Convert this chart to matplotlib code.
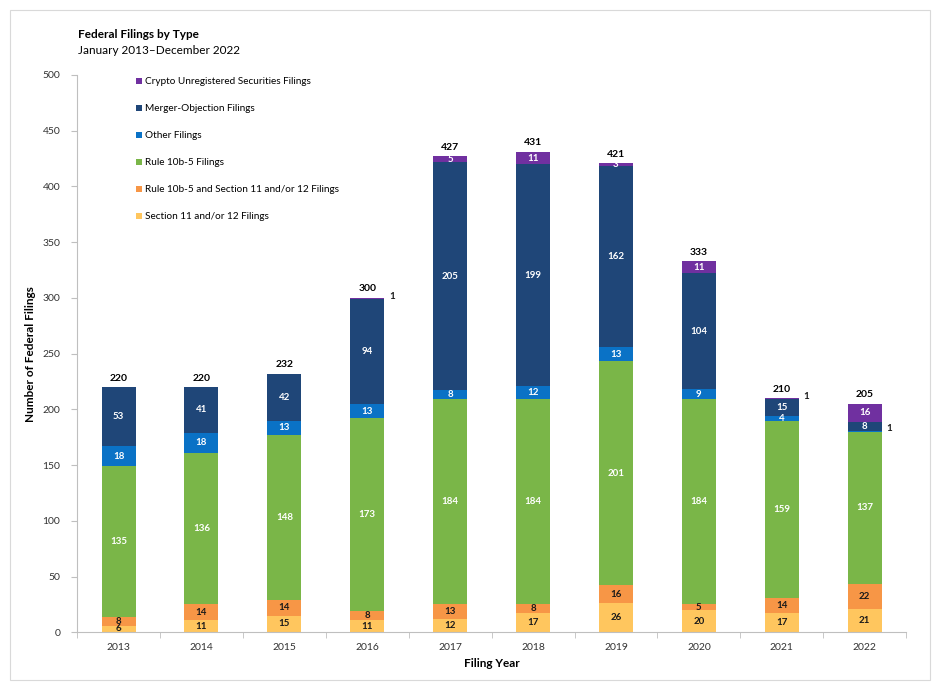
import matplotlib.pyplot as plt
from matplotlib.patches import Rectangle
import numpy as np

plt.rcParams['font.family'] = ['Lato', 'DejaVu Sans']

years = ['2013', '2014', '2015', '2016', '2017', '2018', '2019', '2020', '2021', '2022']
section11 = [6, 11, 15, 11, 12, 17, 26, 20, 17, 21]
rule10b5_s11 = [8, 14, 14, 8, 13, 8, 16, 5, 14, 22]
rule10b5 = [135, 136, 148, 173, 184, 184, 201, 184, 159, 137]
other = [18, 18, 13, 13, 8, 12, 13, 9, 4, 1]
merger = [53, 41, 42, 94, 205, 199, 162, 104, 15, 8]
crypto = [0, 0, 0, 1, 5, 11, 3, 11, 1, 16]

series = [
    ('Section 11 and/or 12 Filings', section11, '#FFC65E', '#1a1a1a'),
    ('Rule 10b-5 and Section 11 and/or 12 Filings', rule10b5_s11, '#F79646', '#1a1a1a'),
    ('Rule 10b-5 Filings', rule10b5, '#7AB648', 'white'),
    ('Other Filings', other, '#0A72C6', 'white'),
    ('Merger-Objection Filings', merger, '#1F4678', 'white'),
    ('Crypto Unregistered Securities Filings', crypto, '#7030A0', 'white'),
]

fig = plt.figure(figsize=(9.4, 6.88), dpi=100)
fig.patches.append(Rectangle((0.011, 0.012), 0.978, 0.974, transform=fig.transFigure,
                             fill=False, edgecolor='#d9d9d9', lw=0.8))
ax = fig.add_axes([0.082, 0.081, 0.882, 0.81])

x = np.arange(len(years))
w = 0.41
bottom = np.zeros(len(years))
handles = []
for name, vals, col, tcol in series:
    vals = np.array(vals)
    b = ax.bar(x, vals, w, bottom=bottom, color=col, label=name, edgecolor='none')
    handles.append(b)
    for i, v in enumerate(vals):
        if v == 0:
            continue
        if v <= 2:
            # tiny segments get their label to the right of the bar
            ax.text(x[i] + w / 2 + 0.06, bottom[i] + v / 2 + 2, str(v), ha='left', va='center',
                    fontsize=7, fontweight='bold', color='#1a1a1a')
        else:
            ax.text(x[i], bottom[i] + v / 2, str(v), ha='center', va='center',
                    fontsize=7, fontweight='bold', color=tcol)
    bottom += vals

for i, t in enumerate(bottom):
    ax.text(x[i], t + 4, str(int(t)), ha='center', va='bottom', fontsize=7.5,
            fontweight='bold', color='black')

ax.set_xlim(-0.5, len(years) - 0.5)
ax.set_ylim(0, 500)
ax.set_yticks(np.arange(0, 501, 50))
ax.set_xticks(x)
ax.set_xticklabels(years)
ax.set_xticks(np.arange(-0.5, len(years), 1), minor=True)
ax.tick_params(axis='x', which='major', length=0, labelsize=7.5, colors='#333333', pad=8)
ax.tick_params(axis='x', which='minor', length=4, color='#bfbfbf')
ax.tick_params(axis='y', length=4, color='#bfbfbf', labelsize=7.5, labelcolor='#333333', pad=8)
for s in ['top', 'right']:
    ax.spines[s].set_visible(False)
for s in ['left', 'bottom']:
    ax.spines[s].set_color('#bfbfbf')

ax.set_ylabel('Number of Federal Filings', fontsize=8.5, fontweight='bold')
ax.yaxis.set_label_coords(-0.05, 0.5)
ax.set_xlabel('Filing Year', fontsize=8.5, fontweight='bold', labelpad=4)

leg = ax.legend(handles[::-1], [h.get_label() for h in handles[::-1]], loc='upper left',
                bbox_to_anchor=(0.06, 1.012), frameon=False, fontsize=7.2, labelspacing=1.8,
                handlelength=0.6, handleheight=0.6, handletextpad=0.3)

fig.text(0.083, 0.945, 'Federal Filings by Type', fontsize=8.5, fontweight='bold')
fig.text(0.083, 0.921, 'January 2013\u2013December 2022', fontsize=8.5)

fig.savefig('out.png', dpi=100)
